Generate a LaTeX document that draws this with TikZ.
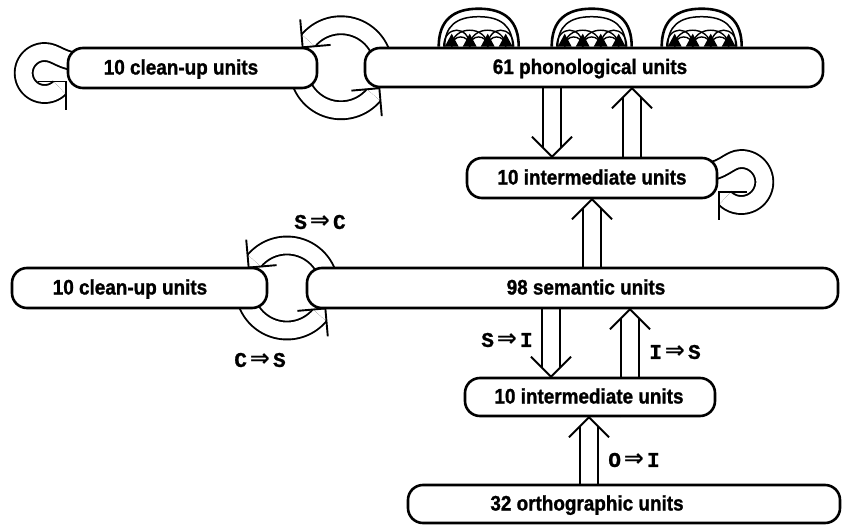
\documentclass[tikz,border=0pt]{standalone}
\usepackage{fontspec}
\usetikzlibrary{calc}
\newfontfamily\boxf{Liberation Sans}[FakeStretch=0.9, BoldFeatures={FakeBold=1.2}]
\newfontfamily\monof{Liberation Mono}[BoldFeatures={FakeBold=1}]
\newfontfamily\symf{DejaVu Sans}
\newcommand{\arr}{\hspace{3pt}{\symf\fontsize{24}{24}\selectfont ⇒}\hspace{3pt}}
\newcommand{\ctext}[2]{\makebox[0pt]{\hspace*{#1}#2}}
\pgfdeclarelayer{background}
\pgfsetlayers{background,main}
\tikzset{
  unitbox/.style={draw, line width=2.6pt, rounded corners=15pt, fill=white, inner sep=0pt,
    minimum height=40pt, font=\boxf\bfseries\fontsize{21}{22}\selectfont,
    text height=15pt, text depth=2pt},
  shaft/.style={double, double distance=16pt, line width=1.9pt, line join=round},
  headline/.style={line width=1.9pt},
  lab/.style={font=\monof\bfseries\fontsize{21}{22}\selectfont, inner sep=0pt},
  thinarc/.style={line width=1.4pt},
}
\newcommand{\varrow}[2]{%
  \draw[shaft] let \p1=#1, \p2=#2, \n1={sign(\y2-\y1)} in (\x1,\y1) -- (\x1,{\y2-(\n1)*9pt});
  \draw[headline] let \p1=#1, \p2=#2, \n1={sign(\y2-\y1)} in
    ({\x1-20pt},{\y2-(\n1)*20pt}) -- (\x1,\y2) -- ({\x1+20pt},{\y2-(\n1)*20pt});
}
\newcommand{\headat}[2]{\draw[headline] #1 ++({#2+135}:28) -- #1 -- ++({#2-135}:28);}
\newcommand{\attractor}{%
  \draw[line width=2.6pt] (0,0) .. controls (0,-26) and (14,-38) .. (40,-38) .. controls (66,-38) and (80,-26) .. (80,0);
  \draw[line width=1.5pt] (6,0) .. controls (6,-20) and (17,-30) .. (40,-30) .. controls (63,-30) and (74,-20) .. (74,0);
  \foreach \a/\b in {5/31, 13/49, 31/67, 49/75} \draw[thinarc] (\a,0) .. controls (\a,-22) and (\b,-22) .. (\b,0);
  \foreach \a/\b in {13/31, 31/49, 49/67} \draw[thinarc] (\a,0) .. controls (\a,-13) and (\b,-13) .. (\b,0);
  \foreach \t in {13,31,49,67} \fill ({\t-7},0) -- (\t,-13) -- ({\t+7},0) -- cycle;
}
\begin{document}
\begin{tikzpicture}[x=1pt, y=-1pt]
\useasboundingbox (0,0) rectangle (860,525);
% boxes
\node[unitbox, minimum width=249pt] (cu1) at (192.5,68) {\ctext{-23pt}{10 clean-up units}};
\node[unitbox, minimum width=458pt, minimum height=39pt] (phon) at (594,67.5) {\ctext{-8pt}{61 phonological units}};
\node[unitbox, minimum width=250pt] (it) at (592,178) {\ctext{0pt}{10 intermediate units}};
\node[unitbox, minimum width=255pt] (cu2) at (139.5,288) {\ctext{-19pt}{10 clean-up units}};
\node[unitbox, minimum width=531pt] (sem) at (572.5,288) {\ctext{27pt}{98 semantic units}};
\node[unitbox, minimum width=250pt, minimum height=38pt] (ib) at (590,397) {\ctext{-2pt}{10 intermediate units}};
\node[unitbox, minimum width=432pt, minimum height=38pt] (orth) at (624,504) {\ctext{-74pt}{32 orthographic units}};
% labels
\node[lab] (lsc) at (320,222) {S\arr C};
\node[lab] (lcs) at (260,360) {C\arr S};
\node[lab] (lsi) at (507,340) {S\arr I};
\node[lab] (lis) at (675,352) {I\arr S};
\node[lab] (loi) at (634,460) {O\arr I};
% attractor arcs over phonological units
\foreach \dx in {75,188,298} {
  \begin{scope}[shift={([xshift=\dx pt]phon.north west)}]
    \attractor
  \end{scope}
}
\begin{pgfonlayer}{background}
  % straight hollow arrows
  \varrow{([xshift=-42pt]phon.south)}{(it.north)}
  \varrow{([xshift=40pt]it.north)}{(phon.south)}
  \varrow{([xshift=19.5pt]sem.north)}{(it.south)}
  \varrow{([xshift=-21.5pt]sem.south)}{(ib.north)}
  \varrow{([xshift=40pt]ib.south)}{(sem.south)}
  \varrow{([xshift=-35pt]orth.north)}{(ib.south)}
  % loops between clean-up and main layers
  \coordinate (c1) at ($(cu1.east)!0.5!(phon.west)$);
  \coordinate (c2) at ($(cu2.east)!0.5!(sem.west)$);
  \foreach \c in {c1,c2} {
    \begin{scope}[shift={(\c)}]
      \draw[shaft] plot[domain=-20:-140, samples=40] ({42.5*cos(\x)},{42.5*sin(\x)});
      \headat{($(-140:42.5)+(130:9)$)}{130}
      \draw[shaft] plot[domain=160:40, samples=40] ({42.5*cos(\x)},{42.5*sin(\x)});
      \headat{($(40:42.5)+(-50:9)$)}{-50}
    \end{scope}
  }
  % self loops
  \begin{scope}[shift={(cu1.west)}]
    \draw[shaft] (17,-6) .. controls (-6,-6) and (-10,-16) .. (-22,-16)
      -- plot[domain=-90:-315, samples=50] ({-22+21*cos(\x)},{5+21*sin(\x)});
    \headat{(-0.8,13.5)}{-45}
  \end{scope}
  \begin{scope}[shift={(it.east)}]
    \draw[shaft] (-17,-6) .. controls (6,-6) and (10,-19) .. (23,-19)
      -- plot[domain=-90:135, samples=50] ({23+23*cos(\x)},{4+23*sin(\x)});
    \headat{(0.4,13.9)}{225}
  \end{scope}
\end{pgfonlayer}
\end{tikzpicture}
\end{document}
